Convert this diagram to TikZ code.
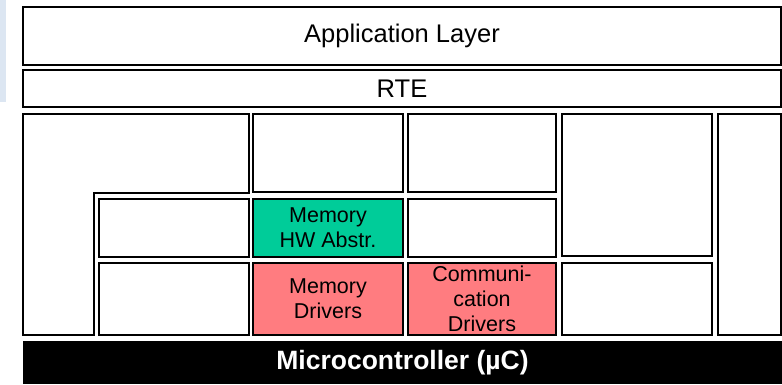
\documentclass[tikz,border=0pt]{standalone}
\usepackage{fontspec}
\setmainfont{Liberation Sans}
\definecolor{stripblue}{RGB}{220,230,242}
\definecolor{memgreen}{RGB}{0,204,153}
\definecolor{drvpink}{RGB}{255,124,128}
\newcommand\bx[7]{\node[#6, anchor=north west, minimum width={#4pt-#2pt}, minimum height={#5pt-#3pt}] (#1) at (#2,#3) {#7};}
\begin{document}
\begin{tikzpicture}[x=1pt,y=-1pt,
  box/.style={draw=black, line width=1.5pt, fill=white, inner sep=0pt, outer sep=0pt, align=center, font=\fontsize{21.5}{25}\selectfont},
  bigbox/.style={box, font=\fontsize{25.5}{29}\selectfont},
  mcubox/.style={fill=black, draw=none, inner sep=0pt, outer sep=0pt, text=white, font=\fontsize{26.5}{30}\selectfont\bfseries},
  lshape/.style={draw=black, line width=1.5pt, fill=white}]
\useasboundingbox (0,0) rectangle (782,384);
\fill[stripblue] (0,0) rectangle (6,102);
\bx{app}{23}{7}{781}{65}{bigbox}{Application Layer}
\bx{rte}{23}{70}{781}{107}{bigbox}{RTE}
\draw[lshape] (23,114) -- (249,114) -- (249,193) -- (94,193) -- (94,335) -- (23,335) -- cycle;
\coordinate (lcorner) at (94,193);
\bx{ctwotop}{253}{114}{403}{192}{box}{}
\bx{cthreetop}{408}{114}{556}{192}{box}{}
\bx{cfourtop}{562}{114}{712}{256}{box}{}
\bx{cfive}{718}{114}{781}{335}{box}{}
\bx{rtwoleft}{99}{199}{249}{257}{box}{}
\bx{memhw}{253}{199}{403}{257}{box, fill=memgreen}{Memory\\HW Abstr.}
\bx{cthreemid}{408}{199}{556}{257}{box}{}
\bx{rthreeleft}{99}{263}{249}{335}{box}{}
\bx{memdrv}{253}{263}{403}{335}{box, fill=drvpink}{Memory\\Drivers}
\bx{comdrv}{408}{263}{556}{335}{box, fill=drvpink}{Communi-\\cation\\Drivers}
\bx{cfourbot}{562}{263}{712}{335}{box}{}
\bx{mcu}{23}{341}{782}{384}{mcubox}{Microcontroller (µC)}
\end{tikzpicture}
\end{document}
